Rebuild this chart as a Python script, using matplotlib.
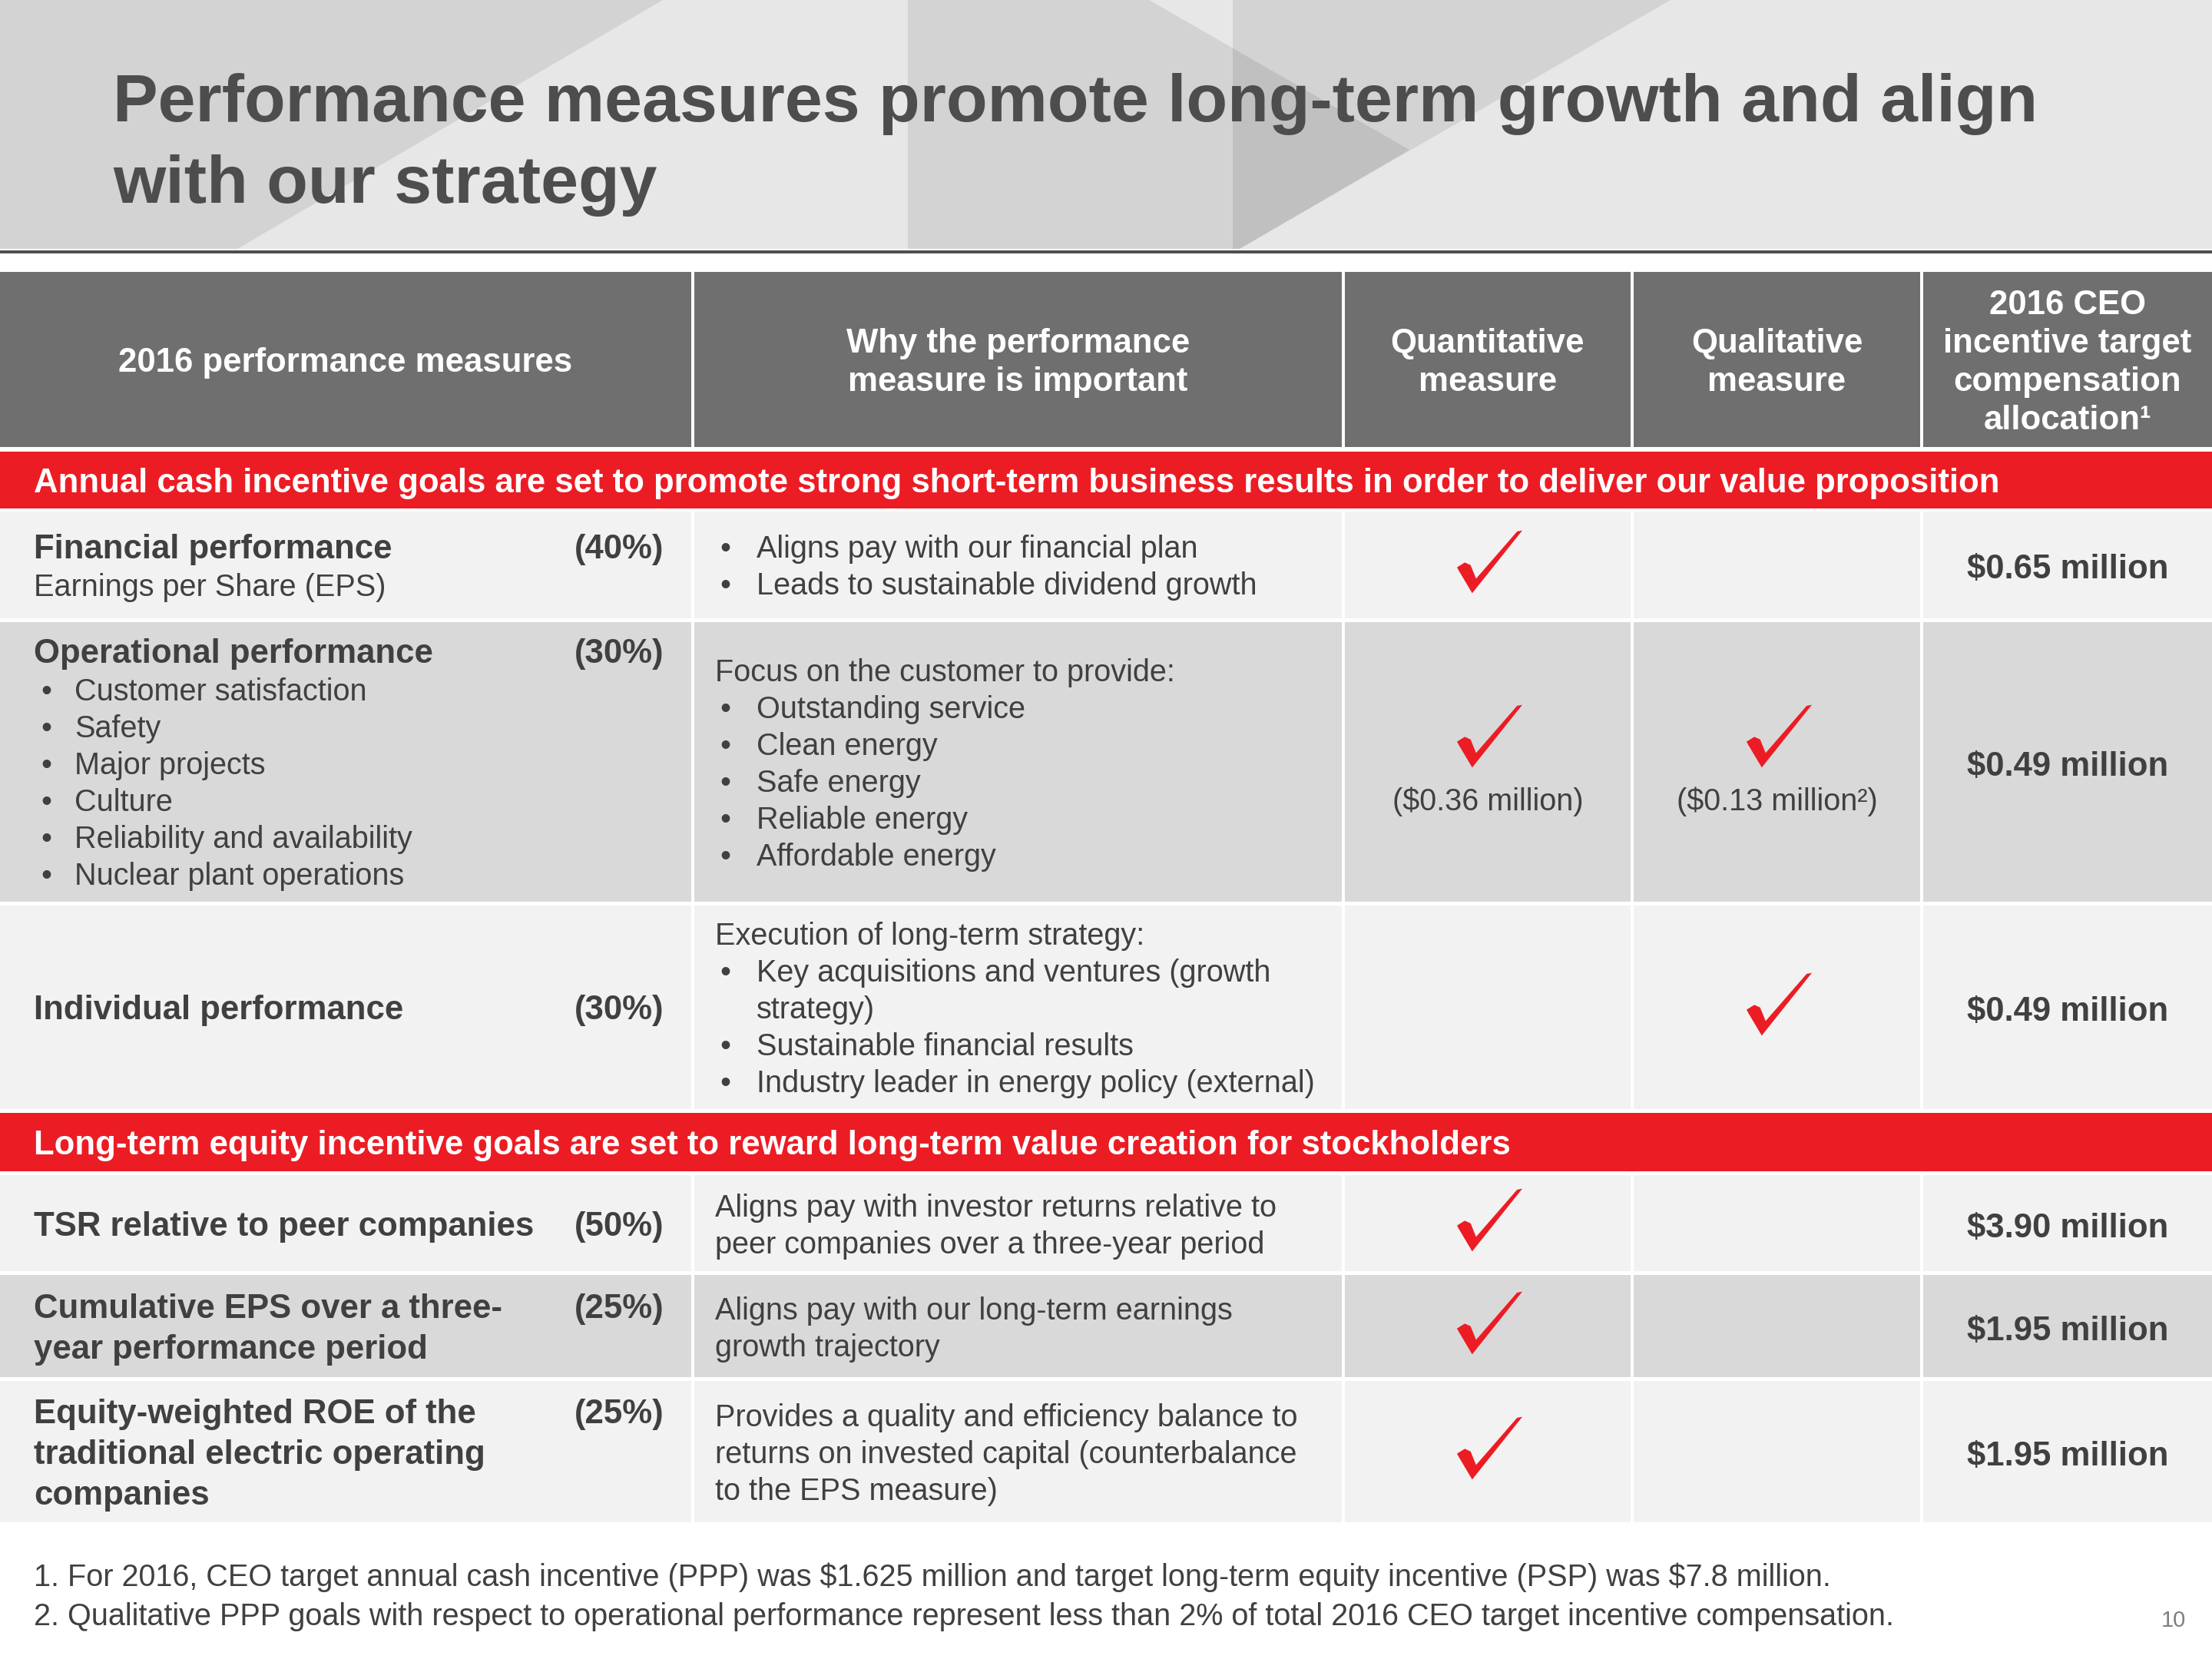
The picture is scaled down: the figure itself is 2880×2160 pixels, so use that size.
import matplotlib
matplotlib.use("Agg")
import matplotlib.pyplot as plt
from matplotlib.patches import Rectangle, Polygon
from matplotlib.path import Path

plt.rcParams["font.family"] = ["Liberation Sans", "DejaVu Sans"]
plt.rcParams["text.parse_math"] = False  # dollar signs are literal here

# ---- slide content ----
title_lines = ["Performance measures promote long-term growth and align",
               "with our strategy"]

header_labels = [
    ["2016 performance measures"],
    ["Why the performance", "measure is important"],
    ["Quantitative", "measure"],
    ["Qualitative", "measure"],
    ["2016 CEO", "incentive target", "compensation", "allocation¹"],
]

section_labels = [
    "Annual cash incentive goals are set to promote strong short-term business "
    "results in order to deliver our value proposition",
    "Long-term equity incentive goals are set to reward long-term value creation "
    "for stockholders",
]

measure_names = [
    ["Financial performance"],
    ["Operational performance"],
    ["Individual performance"],
    ["TSR relative to peer companies"],
    ["Cumulative EPS over a three-", "year performance period"],
    ["Equity-weighted ROE of the", "traditional electric operating", "companies"],
]
measure_weights = ["(40%)", "(30%)", "(30%)", "(50%)", "(25%)", "(25%)"]
measure_notes = [["Earnings per Share (EPS)"], [], [], [], [], []]
measure_bullets = [
    [],
    ["Customer satisfaction", "Safety", "Major projects", "Culture",
     "Reliability and availability", "Nuclear plant operations"],
    [], [], [], [],
]

why_intro = [
    [],
    ["Focus on the customer to provide:"],
    ["Execution of long-term strategy:"],
    ["Aligns pay with investor returns relative to",
     "peer companies over a three-year period"],
    ["Aligns pay with our long-term earnings", "growth trajectory"],
    ["Provides a quality and efficiency balance to",
     "returns on invested capital (counterbalance", "to the EPS measure)"],
]
why_bullets = [
    ["Aligns pay with our financial plan", "Leads to sustainable dividend growth"],
    ["Outstanding service", "Clean energy", "Safe energy", "Reliable energy",
     "Affordable energy"],
    ["Key acquisitions and ventures (growth\nstrategy)",
     "Sustainable financial results",
     "Industry leader in energy policy (external)"],
    [], [], [],
]

quantitative = [True, True, False, True, True, True]
qualitative = [False, True, True, False, False, False]
quant_notes = ["", "($0.36 million)", "", "", "", ""]
qual_notes = ["", "($0.13 million²)", "", "", "", ""]
allocations = ["$0.65 million", "$0.49 million", "$0.49 million",
               "$3.90 million", "$1.95 million", "$1.95 million"]

footnotes = [
    "1. For 2016, CEO target annual cash incentive (PPP) was $1.625 million and "
    "target long-term equity incentive (PSP) was $7.8 million.",
    "2. Qualitative PPP goals with respect to operational performance represent "
    "less than 2% of total 2016 CEO target incentive compensation.",
]
page_number = "10"

# ---- layout (pixels of a 2880 x 2160 slide) ----
W, H = 2880, 2160
col_edges = [(0, 900), (904, 1747), (1751, 2123), (2127, 2500), (2504, 2880)]
header_box = (354, 582)
section_boxes = [(588, 662), (1449, 1525)]
row_boxes = [(666, 805), (810, 1174), (1179, 1444),
             (1530, 1655), (1660, 1793), (1798, 1982)]
row_fill = ["#f2f2f2", "#d9d9d9", "#f2f2f2", "#f2f2f2", "#d9d9d9", "#f2f2f2"]

RED = "#ec1c24"
HEAD = "#6f6f6f"
TXT = "#404040"
FS_BODY = 9.5
FS_BOLD = 10.5

fig = plt.figure(figsize=(9.6, 7.2), dpi=300)
ax = fig.add_axes([0, 0, 1, 1])
ax.set_xlim(0, W)
ax.set_ylim(H, 0)
ax.axis("off")

# title band with faceted background
ax.add_patch(Rectangle((0, 0), W, 324, facecolor="#e7e7e7", edgecolor="none"))
facets = [
    [(0, 0), (863, 0), (309, 324), (0, 324)],
    [(1182, 0), (1496, 0), (1835, 195), (1614, 324), (1182, 324)],
    [(1605, 0), (2175, 0), (1614, 324), (1605, 324)],
]
for pts in facets:
    ax.add_patch(Polygon(pts, closed=True, facecolor="black", alpha=0.085,
                         edgecolor="none"))
ax.add_patch(Rectangle((0, 326), W, 4, facecolor="#4f4f4f", edgecolor="none"))
for i, line in enumerate(title_lines):
    ax.text(147, 127 + i * 105, line, fontsize=21.1, fontweight="bold",
            color="#4d4d4d", ha="left", va="center_baseline")


def draw_lines(x, lines, y0, step, **kw):
    for k, line in enumerate(lines):
        ax.text(x, y0 + k * step, line, va="center_baseline", **kw)


# header row
for (x0, x1), labels in zip(col_edges, header_labels):
    ax.add_patch(Rectangle((x0, header_box[0]), x1 - x0,
                           header_box[1] - header_box[0],
                           facecolor=HEAD, edgecolor="none"))
    yc = (header_box[0] + header_box[1]) / 2
    step = 50
    draw_lines((x0 + x1) / 2, labels, yc - step * (len(labels) - 1) / 2, step,
               ha="center", color="white", fontsize=FS_BOLD, fontweight="bold")

# red section bands
for (y0, y1), label in zip(section_boxes, section_labels):
    ax.add_patch(Rectangle((0, y0), W, y1 - y0, facecolor=RED, edgecolor="none"))
    ax.text(44, (y0 + y1) / 2, label, color="white", fontsize=FS_BOLD,
            fontweight="bold", ha="left", va="center_baseline")


def block_positions(kinds, yc):
    gaps = []
    for a, b in zip(kinds[:-1], kinds[1:]):
        if a == "b" and b == "b":
            gaps.append(53)
        elif a == "b" or b == "b":
            gaps.append(50)
        else:
            gaps.append(48)
    total = sum(gaps)
    ys = [yc - total / 2]
    for g in gaps:
        ys.append(ys[-1] + g)
    return ys


def check_marker():
    verts = [(-1.01, -0.17), (-0.77, -0.02), (-0.59, -0.10), (-0.42, -0.52),
             (0.85, 0.94), (1.01, 0.97), (-0.54, -0.97), (-0.95, -0.28),
             (-1.01, -0.17)]
    codes = [Path.MOVETO] + [Path.LINETO] * 7 + [Path.CLOSEPOLY]
    return Path(verts, codes)


CHECK = check_marker()

for r, (y0, y1) in enumerate(row_boxes):
    yc = (y0 + y1) / 2
    for x0, x1 in col_edges:
        ax.add_patch(Rectangle((x0, y0), x1 - x0, y1 - y0,
                               facecolor=row_fill[r], edgecolor="none"))

    # column 1: measure name, weight, details
    items = [(t, "b", None) for t in measure_names[r]]
    items += [(t, "r", None) for t in measure_notes[r]]
    items += [(t, "r", "•") for t in measure_bullets[r]]
    ys = block_positions([k for _, k, _ in items], yc)
    for (t, kind, bul), y in zip(items, ys):
        if bul:
            ax.text(53, y, bul, fontsize=FS_BODY, color=TXT, va="center_baseline")
            ax.text(97, y, t, fontsize=FS_BODY, color=TXT, va="center_baseline")
        else:
            ax.text(44, y, t, fontsize=FS_BOLD if kind == "b" else FS_BODY,
                    fontweight="bold" if kind == "b" else "normal",
                    color=TXT, va="center_baseline")
    ax.text(864, ys[0], measure_weights[r], fontsize=FS_BOLD, fontweight="bold",
            color=TXT, ha="right", va="center_baseline")

    # column 2: why it matters
    items = [(t, None) for t in why_intro[r]]
    for b in why_bullets[r]:
        for j, part in enumerate(b.split("\n")):
            items.append((part, "•" if j == 0 else ""))
    ys = block_positions(["r"] * len(items), yc)
    for (t, bul), y in zip(items, ys):
        if bul is None:
            ax.text(931, y, t, fontsize=FS_BODY, color=TXT, va="center_baseline")
        else:
            if bul:
                ax.text(937, y, bul, fontsize=FS_BODY, color=TXT,
                        va="center_baseline")
            ax.text(985, y, t, fontsize=FS_BODY, color=TXT, va="center_baseline")

    # columns 3-4: check marks with optional dollar notes
    for flag, note, (x0, x1) in [(quantitative[r], quant_notes[r], col_edges[2]),
                                 (qualitative[r], qual_notes[r], col_edges[3])]:
        if not flag:
            continue
        xc = (x0 + x1) / 2 + 2
        cy = yc - 34 if note else yc - 5
        ax.plot([xc], [cy], marker=CHECK, markersize=20.4, color=RED,
                markeredgewidth=0, linestyle="none")
        if note:
            ax.text((x0 + x1) / 2, yc + 48, note, fontsize=FS_BODY, color=TXT,
                    ha="center", va="center_baseline")

    # column 5: allocation
    x0, x1 = col_edges[4]
    ax.text((x0 + x1) / 2, yc + 2, allocations[r], fontsize=FS_BOLD,
            fontweight="bold", color=TXT, ha="center", va="center_baseline")

# footnotes
for i, note in enumerate(footnotes):
    ax.text(44, 2050 + i * 51, note, fontsize=9.5, color=TXT, ha="left",
            va="center_baseline")
ax.text(2830, 2107, page_number, fontsize=7, color="#7f7f7f", ha="center",
        va="center_baseline")

fig.savefig("out.png", dpi=300, facecolor="white")
